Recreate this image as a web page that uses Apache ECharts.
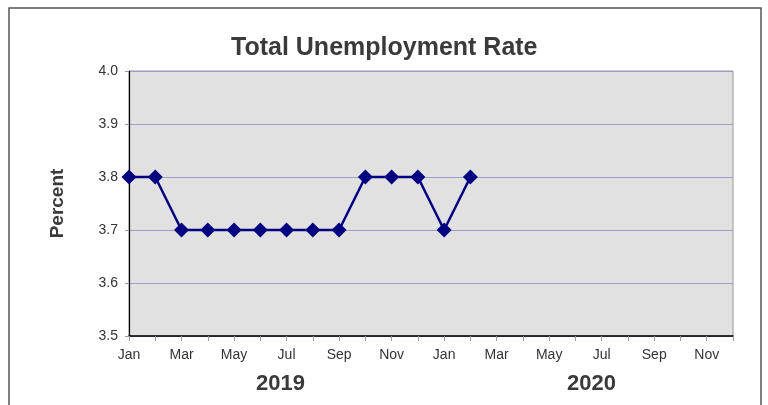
<!DOCTYPE html>
<html>
<head>
<meta charset="utf-8">
<script src="https://cdn.jsdelivr.net/npm/echarts@6/dist/echarts.min.js"></script>
<style>
html,body{margin:0;padding:0;background:#fff;}
#chart{width:768px;height:405px;}
</style>
</head>
<body>
<div id="chart"></div>
<script>
const months = ['Jan','Feb','Mar','Apr','May','Jun','Jul','Aug','Sep','Oct','Nov','Dec',
                'Jan','Feb','Mar','Apr','May','Jun','Jul','Aug','Sep','Oct','Nov','Dec'];
const years = ['2019','2020'];
const unemploymentRate = [3.8,3.8,3.7,3.7,3.7,3.7,3.7,3.7,3.7,3.8,3.8,3.8,3.7,3.8];
const yTicks = {min:3.5, max:4.0, interval:0.1};

const chart = echarts.init(document.getElementById('chart'));
chart.setOption({
  backgroundColor:'#ffffff',
  animation:false,
  title:{
    text:'Total Unemployment Rate',
    left:226, top:31,
    textStyle:{fontFamily:'Liberation Sans, Arial, sans-serif', fontSize:25, fontWeight:'bold', color:'#3a3a3a'}
  },
  grid:{left:129, right:35, top:71, bottom:69, show:true, backgroundColor:'#e1e1e1', borderColor:'#999', borderWidth:1},
  xAxis:{
    type:'category', data:months, boundaryGap:false,
    axisLine:{lineStyle:{color:'#000', width:1.5}},
    axisTick:{show:true, interval:0, length:5, lineStyle:{color:'#999'}},
    axisLabel:{interval:1, margin:12, fontFamily:'Liberation Sans, Arial, sans-serif', fontSize:14, color:'#333'},
    splitLine:{show:false}
  },
  yAxis:{
    type:'value', min:yTicks.min, max:yTicks.max, interval:yTicks.interval,
    name:'Percent', nameLocation:'middle', nameGap:62, nameRotate:90,
    nameTextStyle:{fontFamily:'Liberation Sans, Arial, sans-serif', fontSize:19, fontWeight:'bold', color:'#3a3a3a'},
    axisLine:{show:true, lineStyle:{color:'#000', width:1.2}},
    axisTick:{show:true, length:4, lineStyle:{color:'#999'}},
    axisLabel:{formatter:v=>v.toFixed(1), margin:11, fontFamily:'Liberation Sans, Arial, sans-serif', fontSize:14, color:'#333'},
    splitLine:{lineStyle:{color:'#9d9dc6', width:1}}
  },
  graphic:[
    {type:'rect', shape:{x:9, y:8, width:752, height:420}, style:{fill:'none', stroke:'#555', lineWidth:1.5}, silent:true, z:-1},
    {type:'text', left:256, top:373, style:{text:years[0], font:'bold 22px Liberation Sans, Arial, sans-serif', fill:'#3a3a3a'}},
    {type:'text', left:567, top:373, style:{text:years[1], font:'bold 22px Liberation Sans, Arial, sans-serif', fill:'#3a3a3a'}}
  ],
  series:[{
    type:'line', data:unemploymentRate,
    symbol:'diamond', symbolSize:15,
    itemStyle:{color:'#000080'},
    lineStyle:{color:'#000080', width:2.5}
  }]
});
</script>
</body>
</html>
